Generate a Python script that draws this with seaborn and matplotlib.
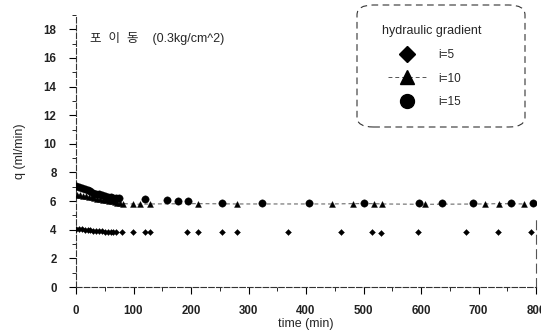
import matplotlib
matplotlib.use("Agg")
import matplotlib.pyplot as plt
from matplotlib.lines import Line2D
from matplotlib.patches import FancyBboxPatch
from matplotlib.ticker import MultipleLocator
import seaborn as sns
import pandas as pd

# ---- data ----
t5 = [0, 5, 10, 15, 20, 25, 30, 35, 40, 45, 50, 55, 60, 65, 70,
      80, 99, 120, 129, 193, 212, 254, 280, 368, 460, 514, 530, 594, 678, 734, 791]
q5 = [4.05, 4.04, 4.02, 4.0, 3.98, 3.96, 3.94, 3.92, 3.9, 3.88, 3.87, 3.86, 3.85, 3.84, 3.83,
      3.82, 3.82, 3.82, 3.82, 3.82, 3.82, 3.82, 3.82, 3.82, 3.82, 3.84, 3.8, 3.82, 3.82, 3.82, 3.82]

t10 = [2, 7, 12, 17, 22, 27, 32, 37, 42, 47, 52, 57, 62, 67, 72, 77,
       82, 99, 112, 129, 212, 280, 445, 482, 518, 532, 607, 711, 735, 779]
q10 = [6.45, 6.42, 6.38, 6.34, 6.3, 6.26, 6.22, 6.18, 6.14, 6.1, 6.06, 6.02, 5.98, 5.94, 5.9, 5.87,
       5.82, 5.8, 5.78, 5.8, 5.82, 5.8, 5.8, 5.82, 5.82, 5.8, 5.78, 5.8, 5.82, 5.8]

t15 = [0, 5, 10, 15, 20, 25, 30, 35, 40, 45, 50, 55, 60, 65, 70, 75,
       120, 158, 177, 195, 254, 323, 405, 501, 597, 637, 690, 757, 795]
q15 = [7.05, 6.98, 6.9, 6.82, 6.75, 6.68, 6.6, 6.53, 6.47, 6.42, 6.37, 6.32, 6.28, 6.25, 6.22, 6.2,
       6.15, 6.1, 6.02, 6.0, 5.9, 5.88, 5.85, 5.85, 5.85, 5.85, 5.85, 5.85, 5.85]

labels = ["i=5", "i=10", "i=15"]
title_text = "포  이  동    (0.3kg/cm^2)"
legend_title = "hydraulic gradient"
xticks = [0, 100, 200, 300, 400, 500, 600, 700, 800]
yticks = [0, 2, 4, 6, 8, 10, 12, 14, 16, 18]

df = pd.concat([
    pd.DataFrame({"time": t5, "q": q5, "gradient": labels[0]}),
    pd.DataFrame({"time": t10, "q": q10, "gradient": labels[1]}),
    pd.DataFrame({"time": t15, "q": q15, "gradient": labels[2]}),
], ignore_index=True)

sns.set_style("white")
plt.rcParams["font.family"] = ["Liberation Sans", "Noto Sans CJK KR", "DejaVu Sans"]

fig = plt.figure(figsize=(5.41, 3.32), dpi=100)
ax = fig.add_axes([76 / 541, 1 - 287 / 332, (536 - 76) / 541, (287 - 15) / 332])

# connecting dashed line for i=10
sns.lineplot(data=df[df.gradient == labels[1]], x="time", y="q", ax=ax,
             color="#555555", lw=0.7, linestyle=(0, (4, 3)), estimator=None, sort=False,
             legend=False)

markers = {labels[0]: "D", labels[1]: "^", labels[2]: "o"}
sizes_map = {labels[0]: 9, labels[1]: 18, labels[2]: 28}
for lab in labels:
    sub = df[df.gradient == lab]
    sns.scatterplot(data=sub, x="time", y="q", ax=ax, marker=markers[lab],
                    s=sizes_map[lab], color="black", edgecolor="black", linewidth=0.3,
                    legend=False, zorder=3)

ax.set_xlim(0, 800)
ax.set_ylim(0, 19)
ax.set_xticks(xticks)
ax.set_yticks(yticks)
ax.xaxis.set_minor_locator(MultipleLocator(50))
ax.yaxis.set_minor_locator(MultipleLocator(1))
ax.tick_params(axis="both", which="major", direction="out", length=5, width=0.8,
               labelsize=8.3, colors="black", left=True, bottom=True)
ax.tick_params(axis="y", which="major", pad=9)
ax.tick_params(axis="x", which="major", pad=8)
ax.tick_params(axis="both", which="minor", direction="out", length=3, width=0.7,
               left=True, bottom=True)
for lbl in ax.get_xticklabels() + ax.get_yticklabels():
    lbl.set_fontweight("bold")
    lbl.set_color("#222222")

ax.spines["top"].set_visible(False)
for side in ["left", "bottom"]:
    ax.spines[side].set_color("#333333")
    ax.spines[side].set_linewidth(0.8)
    ax.spines[side].set_linestyle((0, (5, 2)))
ax.spines["right"].set_color("#555555")
ax.spines["right"].set_linewidth(0.8)
ax.spines["right"].set_linestyle((0, (8, 5)))
ax.spines["right"].set_bounds(0, 4.8)

ax.set_xlabel("time (min)", fontsize=9, labelpad=1)
ax.set_ylabel("q (ml/min)", fontsize=9, labelpad=13)

ax.text(0.03, 0.915, title_text, transform=ax.transAxes, fontsize=9,
        family=["Liberation Sans", "Noto Sans CJK KR"], va="center", ha="left")

# legend box
box = FancyBboxPatch((357 / 541, 1 - 127 / 332), (525 - 357) / 541, (127 - 5) / 332,
                     boxstyle="round,pad=0,rounding_size=0.03", transform=fig.transFigure,
                     facecolor="white", edgecolor="#333333", lw=0.8, linestyle=(0, (6, 4)),
                     zorder=5)
fig.patches.append(box)

handles = [
    Line2D([], [], marker="D", color="black", linestyle="none", markersize=8),
    Line2D([], [], marker="^", color="#555555", markerfacecolor="black", markeredgecolor="black",
           linestyle=(0, (4, 3)), lw=0.7, markersize=10),
    Line2D([], [], marker="o", color="black", linestyle="none", markersize=10),
]
leg = fig.legend(handles, labels, title=legend_title, loc="upper left",
                 bbox_to_anchor=(382 / 541, 1 - 19 / 332), frameon=False,
                 fontsize=8.5, title_fontsize=9, handlelength=3.3, handletextpad=1.0,
                 labelspacing=1.0, borderpad=0)
leg.set_zorder(6)
leg._legend_box.align = "left"
leg.get_title().set_position((-6, 0))

fig.savefig("out.png", dpi=100)
